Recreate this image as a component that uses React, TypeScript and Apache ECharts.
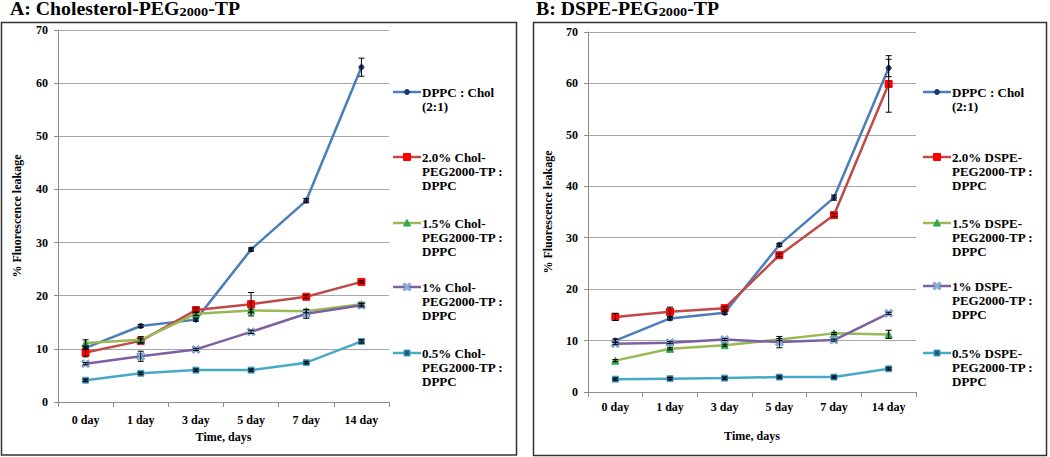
import React, { useEffect, useRef } from "react";
import * as echarts from "echarts";

const SERIF = '"Liberation Serif", "Times New Roman", serif';

const categories = ["0 day", "1 day", "3 day", "5 day", "7 day", "14 day"];
const yTicks = { min: 0, max: 70, interval: 10 };

// Panel A: Cholesterol-PEG2000-TP
const namesA = [
  "DPPC : Chol\n(2:1)",
  "2.0% Chol-\nPEG2000-TP :\nDPPC",
  "1.5% Chol-\nPEG2000-TP :\nDPPC",
  "1% Chol-\nPEG2000-TP :\nDPPC",
  "0.5% Chol-\nPEG2000-TP :\nDPPC",
];
const dppcA = [10.2, 14.3, 15.5, 28.7, 37.9, 63.0];
const chol20 = [9.3, 11.5, 17.3, 18.4, 19.8, 22.6];
const chol15 = [11.1, 11.7, 16.6, 17.2, 17.1, 18.4];
const chol10 = [7.2, 8.6, 9.9, 13.2, 16.6, 18.2];
const chol05 = [4.1, 5.4, 6.0, 6.0, 7.4, 11.4];
const dppcAErr = [0.3, 0.3, 0.3, 0.3, 0.4, 1.7];
const chol20Err = [0.8, 0.4, 0.4, 2.2, 0.3, 0.2];
const chol15Err = [0.6, 0.6, 0.3, 0.3, 0.3, 0.2];
const chol10Err = [0.2, 0.95, 0.2, 0.3, 0.85, 0.3];
const chol05Err = [0.2, 0.2, 0.2, 0.2, 0.2, 0.3];

// Panel B: DSPE-PEG2000-TP
const namesB = [
  "DPPC : Chol\n(2:1)",
  "2.0% DSPE-\nPEG2000-TP :\nDPPC",
  "1.5% DSPE-\nPEG2000-TP :\nDPPC",
  "1% DSPE-\nPEG2000-TP :\nDPPC",
  "0.5% DSPE-\nPEG2000-TP :\nDPPC",
];
const dppcB = [10.0, 14.3, 15.4, 28.6, 37.8, 63.0];
const dspe20 = [14.6, 15.6, 16.3, 26.6, 34.4, 59.9];
const dspe15 = [6.1, 8.4, 9.1, 10.2, 11.4, 11.2];
const dspe10 = [9.4, 9.6, 10.2, 9.7, 10.1, 15.3];
const dspe05 = [2.5, 2.6, 2.7, 2.9, 2.9, 4.5];
const dppcBErr = [0.3, 0.3, 0.3, 0.3, 0.5, 1.7];
const dspe20Err = [0.7, 0.9, 0.3, 0.3, 0.3, 5.5];
const dspe15Err = [0.2, 0.2, 0.2, 0.2, 0.2, 0.8];
const dspe10Err = [0.2, 0.2, 0.2, 1.1, 0.2, 0.2];
const dspe05Err = [0.2, 0.2, 0.2, 0.2, 0.2, 0.2];

const valuesA = [dppcA, chol20, chol15, chol10, chol05];
const errorsA = [dppcAErr, chol20Err, chol15Err, chol10Err, chol05Err];
const valuesB = [dppcB, dspe20, dspe15, dspe10, dspe05];
const errorsB = [dppcBErr, dspe20Err, dspe15Err, dspe10Err, dspe05Err];

const X_PATH =
  "path://M0,2L2,0L5,3L8,0L10,2L7,5L10,8L8,10L5,7L2,10L0,8L3,5Z";

const styles = [
  { line: "#4a7ebb", symbol: "circle", size: 5, fill: "#1c3a6e", border: "#1c3a6e" },
  { line: "#be4b48", symbol: "rect", size: 7, fill: "#ff0000", border: "#ff0000" },
  { line: "#98b954", symbol: "triangle", size: 7, fill: "#2fa84f", border: "#2fa84f" },
  { line: "#7d60a0", symbol: X_PATH, size: 8, fill: "#8eb4e3", border: "#6f95c8" },
  { line: "#46aac5", symbol: "rect", size: 6, fill: "#24598a", border: "#4bacc6" },
];

const axisFont = { fontFamily: SERIF, fontWeight: "bold" as const, fontSize: 12, color: "#000" };

function makeAxes(gridIndex: number, xNameGap: number, yNameGap: number, xLabelMargin: number) {
  const x = {
    type: "category",
    gridIndex,
    data: categories,
    boundaryGap: true,
    name: "Time, days",
    nameLocation: "middle",
    nameGap: xNameGap,
    nameTextStyle: axisFont,
    axisLine: { lineStyle: { color: "#8c8c8c", width: 1 } },
    axisTick: { show: true, length: 5, lineStyle: { color: "#8c8c8c" } },
    axisLabel: { ...axisFont, margin: xLabelMargin, interval: 0 },
    splitLine: { show: false },
  };
  const y = {
    type: "value",
    gridIndex,
    ...yTicks,
    name: "% Fluorescence leakage",
    nameLocation: "middle",
    nameGap: yNameGap,
    nameRotate: 90,
    nameTextStyle: axisFont,
    axisLine: { show: true, lineStyle: { color: "#8c8c8c", width: 1 } },
    axisTick: { show: true, length: 4, lineStyle: { color: "#8c8c8c" } },
    axisLabel: { ...axisFont, margin: 10 },
    splitLine: { show: true, lineStyle: { color: "#a6a6a6", width: 1 } },
  };
  return { x, y };
}

function makeSeries(idx: number, names: string[], values: number[][], errors: number[][]) {
  const out: any[] = [];
  values.forEach((vals, i) => {
    const s = styles[i];
    out.push({
      type: "line",
      name: names[i].replace(/\n/g, " "),
      xAxisIndex: idx,
      yAxisIndex: idx,
      data: vals,
      symbol: s.symbol,
      symbolSize: s.size,
      showAllSymbol: true,
      lineStyle: { color: s.line, width: 2.5 },
      itemStyle: { color: s.fill, borderColor: s.border, borderWidth: 1 },
      z: 2 + i * 0.1,
    });
  });
  values.forEach((vals, i) => {
    const errData = vals.map((v, j) => [j, v, errors[i][j]]).filter((d) => d[2] > 0);
    out.push({
      type: "custom",
      xAxisIndex: idx,
      yAxisIndex: idx,
      data: errData,
      encode: { x: 0, y: 1 },
      z: 5,
      silent: true,
      renderItem: (params: any, api: any) => {
        const j = api.value(0);
        const v = api.value(1);
        const e = api.value(2);
        const hi = api.coord([j, v + e]);
        const lo = api.coord([j, v - e]);
        const w = 3;
        const st = { stroke: "#000", lineWidth: 1 };
        return {
          type: "group",
          children: [
            { type: "line", shape: { x1: hi[0], y1: hi[1], x2: lo[0], y2: lo[1] }, style: st },
            { type: "line", shape: { x1: hi[0] - w, y1: hi[1], x2: hi[0] + w, y2: hi[1] }, style: st },
            { type: "line", shape: { x1: lo[0] - w, y1: lo[1], x2: lo[0] + w, y2: lo[1] }, style: st },
          ],
        };
      },
    });
  });
  return out;
}

function legendMarker(i: number, cx: number, cy: number): any {
  const s = styles[i];
  const st = { fill: s.fill, stroke: s.border, lineWidth: 1 };
  if (i === 0) return { type: "circle", shape: { cx, cy, r: 2.5 }, style: st, z: 11 };
  if (i === 1) return { type: "rect", shape: { x: cx - 3.5, y: cy - 3.5, width: 7, height: 7 }, style: st, z: 11 };
  if (i === 2)
    return { type: "polygon", shape: { points: [[cx, cy - 3.5], [cx + 3.5, cy + 3], [cx - 3.5, cy + 3]] }, style: st, z: 11 };
  if (i === 3) {
    const p = [[0, 2], [2, 0], [5, 3], [8, 0], [10, 2], [7, 5], [10, 8], [8, 10], [5, 7], [2, 10], [0, 8], [3, 5]];
    return {
      type: "polygon",
      shape: { points: p.map(([a, b]) => [cx - 4 + a * 0.8, cy - 4 + b * 0.8]) },
      style: st,
      z: 11,
    };
  }
  return { type: "rect", shape: { x: cx - 3, y: cy - 3, width: 6, height: 6 }, style: st, z: 11 };
}

function legendGraphics(names: string[], x0: number, x1: number, ys: number[]) {
  const els: any[] = [];
  names.forEach((n, i) => {
    const y = ys[i];
    els.push({
      type: "line",
      shape: { x1: x0, y1: y, x2: x1, y2: y },
      style: { stroke: styles[i].line, lineWidth: 2.5 },
      z: 10,
    });
    els.push(legendMarker(i, (x0 + x1) / 2, y));
    els.push({
      type: "text",
      x: x1 + 1,
      y: y - 7,
      style: {
        text: n,
        fill: "#000",
        font: `bold 13px ${SERIF}`,
        lineHeight: 14,
        align: "left",
        verticalAlign: "top",
      },
      z: 10,
    });
  });
  return els;
}

function titleGraphic(x: number, pre: string, sub: string, post: string) {
  return {
    type: "text",
    x,
    y: 0,
    scaleX: 1.1,
    style: {
      text: `{m|${pre}}{s|${sub}}{m|${post}}`,
      align: "left",
      verticalAlign: "top",
      rich: {
        m: { fontFamily: SERIF, fontWeight: "bold", fontSize: 18, lineHeight: 18, verticalAlign: "top", color: "#000" },
        s: {
          fontFamily: SERIF,
          fontWeight: "bold",
          fontSize: 13,
          lineHeight: 13,
          padding: [7, 0, 0, 0],
          verticalAlign: "bottom",
          color: "#000",
        },
      },
    },
    z: 10,
  };
}

export default function App() {
  const ref = useRef<HTMLDivElement>(null);
  useEffect(() => {
    if (!ref.current) return;
    const chart = echarts.init(ref.current, undefined, { renderer: "svg" });
    const a = makeAxes(0, 27, 35, 12);
    const b = makeAxes(1, 38, 34, 9);
    const option: any = {
      animation: false,
      backgroundColor: "#fff",
      grid: [
        { left: 58, top: 30, width: 331, height: 372 },
        { left: 588, top: 32, width: 328, height: 360 },
      ],
      xAxis: [a.x, b.x],
      yAxis: [a.y, b.y],
      series: [...makeSeries(0, namesA, valuesA, errorsA), ...makeSeries(1, namesB, valuesB, errorsB)],
      graphic: [
        {
          type: "rect",
          shape: { x: 1.5, y: 22.5, width: 515, height: 432.5 },
          style: { fill: "none", stroke: "#333", lineWidth: 1.5 },
          z: 0,
        },
        {
          type: "rect",
          shape: { x: 533.5, y: 22.5, width: 513, height: 433 },
          style: { fill: "none", stroke: "#333", lineWidth: 1.5 },
          z: 0,
        },
        titleGraphic(10, "A: Cholesterol-PEG", "2000", "-TP"),
        titleGraphic(536, "B: DSPE-PEG", "2000", "-TP"),
        ...legendGraphics(namesA, 393, 421, [92, 157, 223, 287, 353]),
        ...legendGraphics(namesB, 923, 951, [92, 157, 223, 286, 353]),
      ],
    };
    chart.setOption(option);
    return () => chart.dispose();
  }, []);
  return (
    <div
      ref={ref}
      style={{ position: "absolute", left: 0, top: 0, width: 1050, height: 457 }}
    />
  );
}
